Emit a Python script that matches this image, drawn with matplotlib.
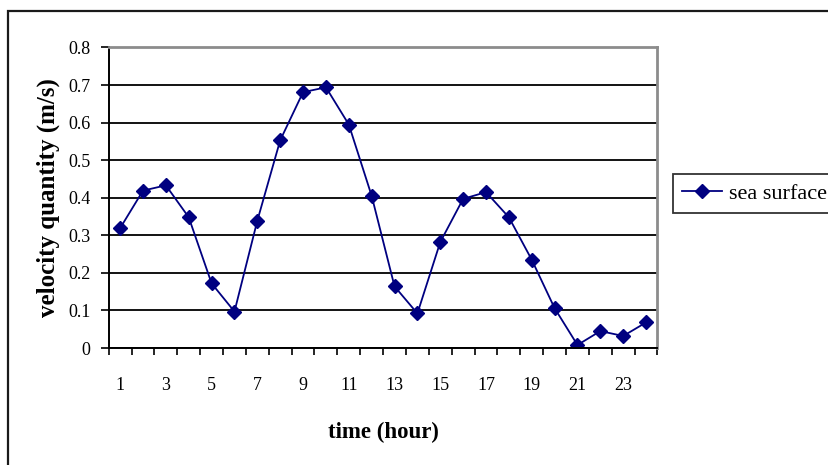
import numpy as np
import matplotlib.pyplot as plt
from matplotlib.patches import Rectangle
from matplotlib.ticker import FixedLocator, MultipleLocator

# hourly surface velocity
hours = list(range(1, 25))
velocity = [0.319, 0.419, 0.433, 0.348, 0.172, 0.097, 0.339, 0.553,
            0.681, 0.694, 0.595, 0.405, 0.164, 0.092, 0.282, 0.397,
            0.415, 0.348, 0.235, 0.106, 0.008, 0.045, 0.032, 0.068]
hour_labels = [str(h) for h in hours]

plt.rcParams['font.family'] = ['Liberation Serif', 'DejaVu Serif']

fig = plt.figure(figsize=(8.29, 4.65), dpi=100)
W, H = 829, 465

# frame round the whole chart
fig.patches.append(Rectangle((8 / W, -0.05), 1.2, 1 - 10.5 / H + 0.05,
                             transform=fig.transFigure, fill=False,
                             edgecolor='#1a1a1a', linewidth=1.6))

ax = fig.add_axes([108.7 / W, 1 - 348 / H, (657.5 - 108.7) / W, (348 - 47.5) / H])

ax.plot(hours, velocity, color='#000080', linewidth=1.3, marker='D',
        markersize=7.5, markerfacecolor='#000080', markeredgecolor='#000080',
        label='sea surface')

ax.set_xlim(0.5, 24.5)
ax.set_ylim(0, 0.8)

ax.yaxis.set_major_locator(MultipleLocator(0.1))
ax.yaxis.set_major_formatter(plt.FuncFormatter(lambda v, p: '%g' % round(v, 1)))
ax.yaxis.grid(True, color='black', linewidth=1.3)
ax.set_axisbelow(True)

# category ticks between the points, labels on every other hour
ax.xaxis.set_major_locator(FixedLocator(np.arange(0.5, 25, 1)))
ax.xaxis.set_major_formatter(plt.NullFormatter())
ax.xaxis.set_minor_locator(FixedLocator(hours[::2]))
ax.xaxis.set_minor_formatter(plt.FixedFormatter(hour_labels[::2]))
ax.tick_params(axis='x', which='minor', length=0, pad=21, labelsize=13)
ax.tick_params(axis='x', which='major', length=5, width=1.2, direction='out')
ax.tick_params(axis='y', length=6, width=1.2, direction='out', pad=7, labelsize=13)

for side in ('left', 'bottom'):
    ax.spines[side].set_color('black')
    ax.spines[side].set_linewidth(1.4)
for side in ('top', 'right'):
    ax.spines[side].set_color('#8c8c8c')
    ax.spines[side].set_linewidth(2)

ax.set_xlabel('time (hour)', fontsize=16.5, fontweight='bold', labelpad=20)
ax.set_ylabel('velocity quantity (m/s)', fontsize=18, fontweight='bold', labelpad=6)

leg = fig.legend(loc='upper left', bbox_to_anchor=(672.7 / W, 1 - 174 / H),
                 fontsize=16, frameon=True, fancybox=False, borderpad=0.42,
                 handlelength=1.8, handletextpad=0.3, borderaxespad=0)
leg.get_frame().set_edgecolor('black')
leg.get_frame().set_linewidth(1.3)

fig.savefig('out.png', dpi=100)
